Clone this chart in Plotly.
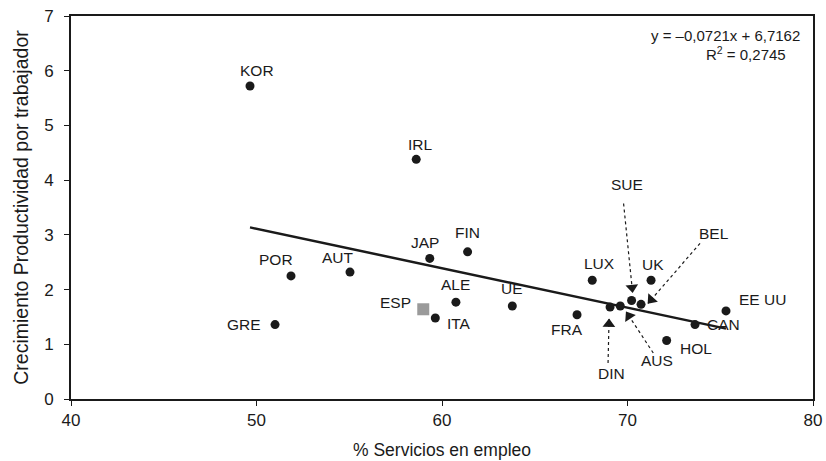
import math
import plotly.graph_objects as go

# --- data -------------------------------------------------------------
countries = ["KOR", "IRL", "FIN", "JAP", "AUT", "POR", "GRE", "ITA", "ALE", "UE",
             "LUX", "UK", "SUE", "BEL", "DIN", "AUS", "FRA", "CAN", "HOL", "EE UU"]
servicios = [49.65, 58.61, 61.38, 59.34, 55.04, 51.86, 51.00, 59.64, 60.75, 63.79,
             68.10, 71.27, 70.22, 70.73, 69.06, 69.61, 67.28, 73.64, 72.11, 75.31]
productividad = [5.72, 4.38, 2.69, 2.57, 2.32, 2.25, 1.36, 1.48, 1.77, 1.70,
                 2.17, 2.17, 1.80, 1.73, 1.68, 1.70, 1.54, 1.36, 1.07, 1.61]

esp_name = "ESP"
esp_servicios = [58.99]
esp_productividad = [1.64]

# linear trend (as stated on the chart)
slope = -0.0721
intercept = 6.7162
r2 = 0.2745

x_ticks = [40, 50, 60, 70, 80]
y_ticks = [0, 1, 2, 3, 4, 5, 6, 7]
x_range = [40, 80]
y_range = [0, 7]

# --- figure geometry ----------------------------------------------------
W, H = 826, 461
M = dict(l=71, r=13, t=16, b=62)
px_per_x = (W - M["l"] - M["r"]) / (x_range[1] - x_range[0])
px_per_y = (H - M["t"] - M["b"]) / (y_range[1] - y_range[0])

# --- label placement (pixel offsets from each point, screen y downward) --
label_offsets = {
    "KOR": (7, -16), "IRL": (4, -15), "FIN": (0, -19), "JAP": (-5, -16),
    "AUT": (-12, -15), "POR": (-15, -16), "GRE": (-31, 0), "ITA": (24, 5),
    "ALE": (0, -18), "UE": (0, -17), "LUX": (7, -17), "UK": (2, -16),
    "FRA": (-10, 15), "CAN": (28, 0), "HOL": (29, 8), "EE UU": (36, -11),
    "SUE": (-5, -116), "BEL": (73, -71), "DIN": (1, 66), "AUS": (37, 55),
    "ESP": (-28, -7),
}
# dotted pointer arrows: (tail offset, tip offset) in screen pixels
pointers = {
    "SUE": ((-8, -97), (1, -8)),
    "BEL": ((59, -61), (7, -1)),
    "DIN": ((-2, 56), (-1, 12)),
    "AUS": ((33, 47), (6, 6)),
}

INK = "#1a1a1a"
FONT = "Liberation Sans, Arial, sans-serif"
HEAD = 11  # arrowhead marker size

fig = go.Figure()

all_x = servicios + esp_servicios
tx = [min(all_x), max(all_x)]
ty = [slope * v + intercept for v in tx]
fig.add_trace(go.Scatter(x=tx, y=ty, mode="lines",
                         line=dict(color=INK, width=2.5), hoverinfo="skip"))

fig.add_trace(go.Scatter(x=servicios, y=productividad, mode="markers",
                         marker=dict(color=INK, size=9, symbol="circle"),
                         text=countries, hoverinfo="text+x+y"))

fig.add_trace(go.Scatter(x=esp_servicios, y=esp_productividad, mode="markers",
                         marker=dict(color="#9a9a9a", size=12, symbol="square"),
                         text=[esp_name], hoverinfo="text+x+y"))

annotations = []
points = list(zip(countries, servicios, productividad)) + \
    [(esp_name, esp_servicios[0], esp_productividad[0])]
for name, xv, yv in points:
    dx, dy = label_offsets[name]
    annotations.append(dict(x=xv, y=yv, xref="x", yref="y", text=name,
                            showarrow=False, xshift=dx, yshift=-dy,
                            xanchor="center", yanchor="middle",
                            font=dict(family=FONT, size=15.5, color=INK)))

shapes = []
head_x, head_y, head_angle = [], [], []
lookup = {n: (xv, yv) for n, xv, yv in points}
for name, ((tx0, ty0), (hx, hy)) in pointers.items():
    xv, yv = lookup[name]
    shapes.append(dict(type="line", xref="x", yref="y",
                       xsizemode="pixel", ysizemode="pixel",
                       xanchor=xv, yanchor=yv,
                       x0=tx0, y0=-ty0, x1=hx, y1=-hy,
                       line=dict(color=INK, width=1.2, dash="dot")))
    # arrowhead: triangle pointing from tail to tip, centred just behind the tip
    dxp, dyp = hx - tx0, hy - ty0
    n = math.hypot(dxp, dyp)
    ux, uy = dxp / n, dyp / n
    cx = hx - ux * HEAD * 0.45
    cy = hy - uy * HEAD * 0.45
    head_x.append(xv + cx / px_per_x)
    head_y.append(yv - cy / px_per_y)
    head_angle.append(math.degrees(math.atan2(ux, -uy)))

fig.add_trace(go.Scatter(x=head_x, y=head_y, mode="markers", hoverinfo="skip",
                         marker=dict(symbol="triangle-up", size=HEAD, color=INK,
                                     angle=head_angle, line=dict(width=0))))

annotations.append(dict(x=0.882, y=0.950, xref="paper", yref="paper",
                        xanchor="center", yanchor="middle",
                        text="y = \u20130,0721x + 6,7162", showarrow=False,
                        font=dict(family=FONT, size=15, color=INK)))
annotations.append(dict(x=0.910, y=0.903, xref="paper", yref="paper",
                        xanchor="center", yanchor="middle",
                        text="R<sup>2</sup> = 0,2745", showarrow=False,
                        font=dict(family=FONT, size=15, color=INK)))

axis_common = dict(showline=True, linecolor=INK, linewidth=1.6, mirror=True,
                   showgrid=False, zeroline=False, ticks="outside",
                   ticklen=5, tickcolor=INK, tickwidth=1.2, automargin=False,
                   tickfont=dict(family=FONT, size=17, color=INK))

fig.update_layout(
    width=W, height=H,
    margin=M,
    paper_bgcolor="white", plot_bgcolor="white",
    showlegend=False,
    shapes=shapes, annotations=annotations,
    xaxis=dict(range=x_range, tickvals=x_ticks,
               title=dict(text="% Servicios en empleo", standoff=15,
                          font=dict(family=FONT, size=17.5, color=INK)),
               **axis_common),
    yaxis=dict(range=y_range, tickvals=y_ticks, ticklabelstandoff=7,
               title=dict(text="Crecimiento Productividad por trabajador", standoff=11,
                          font=dict(family=FONT, size=19.5, color=INK)),
               **axis_common),
)

fig.write_html("out.html")
